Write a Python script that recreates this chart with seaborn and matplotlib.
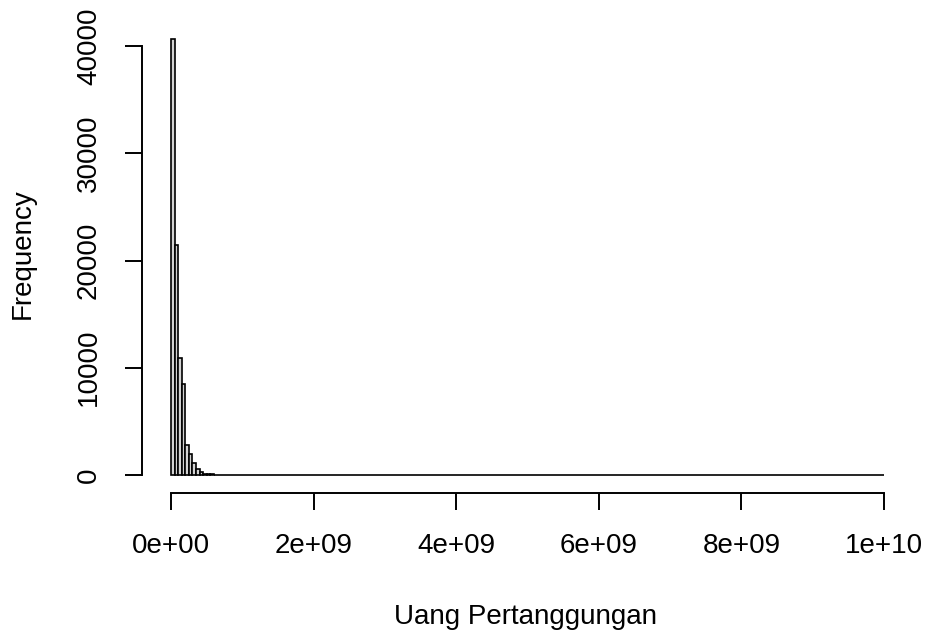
import numpy as np
import pandas as pd
import matplotlib
matplotlib.use("Agg")
import matplotlib.pyplot as plt
import seaborn as sns

# Histogram data (bin width 5e7, 0 .. 1e10)
bin_width = 5e7
n_bins = 200
first_counts = [40650, 21400, 10900, 8450, 2800, 1950, 1100, 600, 250,
                110, 80, 55, 5, 4, 3, 2, 2, 1, 1, 1]
last_counts = [1]
xticks = [0, 2e9, 4e9, 6e9, 8e9, 1e10]
xtick_labels = ["0e+00", "2e+09", "4e+09", "6e+09", "8e+09", "1e+10"]
yticks = [0, 10000, 20000, 30000, 40000]
ytick_labels = ["0", "10000", "20000", "30000", "40000"]

counts = np.zeros(n_bins)
counts[:len(first_counts)] = first_counts
counts[-len(last_counts):] = last_counts
edges = [i * bin_width for i in range(n_bins + 1)]
centers = [(edges[i] + edges[i + 1]) / 2 for i in range(n_bins)]
df = pd.DataFrame({"value": centers, "count": counts})

sns.set_style("white")
plt.rcParams['font.family'] = ['Liberation Sans', 'DejaVu Sans']
plt.rcParams['text.color'] = 'black'
plt.rcParams['xtick.color'] = 'black'
plt.rcParams['ytick.color'] = 'black'

W, H = 926, 633
fig = plt.figure(figsize=(W / 100, H / 100), dpi=100)
ax_l, ax_r, ax_b, ax_t = 141.7, 912.5, 493.3, 20
ax = fig.add_axes([ax_l / W, 1 - ax_b / H, (ax_r - ax_l) / W, (ax_b - ax_t) / H])

sns.histplot(data=df, x="value", weights="count", bins=edges, ax=ax,
             color="#D3D3D3", edgecolor="black", linewidth=1.2, alpha=1.0)

# pixel mapping
x0px, x1px = 171, 884
kx = (x1px - x0px) / 1e10
ax.set_xlim(-(x0px - ax_l) / kx, 1e10 + (ax_r - x1px) / kx)
y0px, y40px = 475, 46
ky = (y0px - y40px) / 40000
ax.set_ylim(-(ax_b - y0px) / ky, (y0px - ax_t) / ky)

for s in ["top", "right"]:
    ax.spines[s].set_visible(False)
for s in ["left", "bottom"]:
    ax.spines[s].set_color("black")
    ax.spines[s].set_linewidth(1.4)
ax.spines["left"].set_bounds(0, 40000)
ax.spines["bottom"].set_bounds(0, 1e10)

fs = 20
ax.set_xticks(xticks)
ax.set_xticklabels(xtick_labels, fontsize=fs, color="black")
ax.set_yticks(yticks)
ax.set_yticklabels(ytick_labels, fontsize=fs, rotation=90, va="center",
                   color="black")
ax.tick_params(axis="both", direction="out", length=12.5, width=1.4,
               color="black", bottom=True, left=True)
ax.tick_params(axis="x", pad=16)
ax.tick_params(axis="y", pad=16)

ax.set_xlabel("")
ax.set_ylabel("")
fig.text(526 / W, 1 - 623.5 / H, "Uang Pertanggungan", fontsize=fs,
         ha="center", va="baseline", color="black")
fig.text(23 / W, 1 - 254 / H, "Frequency", fontsize=fs, rotation=90,
         ha="center", va="center", color="black")

fig.savefig("out.png", dpi=100, facecolor="white")
